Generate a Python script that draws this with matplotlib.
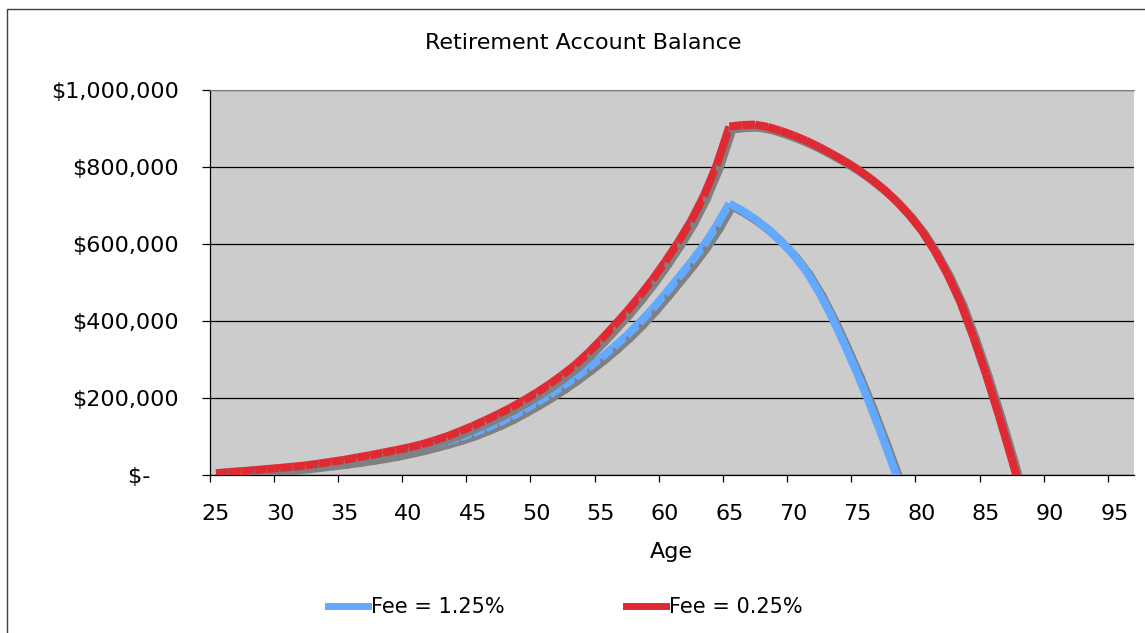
import numpy as np
import matplotlib.pyplot as plt
from matplotlib.transforms import offset_copy
from matplotlib.ticker import FuncFormatter
from matplotlib.lines import Line2D
from matplotlib.patches import Rectangle

# ages on the category axis
ages = list(range(25, 97))

# balance in $ thousands from age 25
# (the last point of each runs below zero and is clipped by the axis)
fee_low = [5, 8, 10.5, 13, 16, 19, 22, 25.5, 30, 35, 40, 46, 52, 58.5, 65, 72, 80, 90, 101, 114,
           128, 143, 159, 176, 195, 215, 237, 261, 287, 318, 352, 388, 425, 465, 508, 555, 605, 660, 725, 805,
           906, 910, 911, 905, 895, 883, 869, 853, 835, 816, 795, 771, 744, 713, 677, 635, 583, 522, 450, 360,
           262, 155, 42, -75]
fee_high = [5, 7.5, 10, 12.5, 15, 17, 20, 23, 27, 31, 35, 39.5, 44.5, 50, 56, 63, 70.5, 79, 88, 98,
            109, 122, 136, 152, 170, 189, 209, 231, 254, 279, 305, 333, 363, 396, 432, 471, 512, 553, 597, 648,
            706, 688, 666, 640, 609, 573, 530, 475, 410, 338, 262, 180, 93, 2, -92]

labels = ['Fee = 1.25%', 'Fee = 0.25%']
colors = ['#63A9FF', '#E02A33']
shadow_color = '#808080'

fig = plt.figure(figsize=(11.45, 6.33), dpi=100)
ax = fig.add_axes([209.6 / 1145, 1 - 475.2 / 633, 924 / 1145, 384.8 / 633])
ax.set_facecolor('#CCCCCC')
ax.set_axisbelow(True)

shadow_tr = offset_copy(ax.transData, fig=fig, x=3, y=-3, units='dots')


def draw_series(vals, color, z0):
    # each segment gets its own shadow, like the spreadsheet chart does
    ys = np.array(vals) * 1000
    xs = np.arange(len(ys))
    for i in range(len(ys) - 1):
        ax.plot(xs[i:i + 2], ys[i:i + 2], color=shadow_color, lw=5.8,
                solid_capstyle='round', transform=shadow_tr, zorder=z0 + 2 * i)
        ax.plot(xs[i:i + 2], ys[i:i + 2], color=color, lw=5.8,
                solid_capstyle='butt', zorder=z0 + 2 * i + 1)


draw_series(fee_high, colors[0], 3)
draw_series(fee_low, colors[1], 300)

ax.set_xlim(-0.5, len(ages) - 0.5)
ax.set_ylim(0, 1_000_000)

ax.set_yticks(np.arange(0, 1_000_001, 200_000))
ax.yaxis.set_major_formatter(FuncFormatter(
    lambda v, p: '$-\u2007\u2007' if v == 0 else '${:,.0f}'.format(v)))
ax.yaxis.grid(True, color='black', lw=0.9)
ax.tick_params(axis='y', length=5.8, width=0.9, pad=16.5, labelsize=16, color='black')

ax.set_xticks(np.arange(-0.5, len(ages) - 2, 5))
ax.set_xticklabels([])
ax.set_xticks(np.arange(0, len(ages), 5), minor=True)
ax.set_xticklabels([str(ages[i]) for i in range(0, len(ages), 5)], minor=True)
ax.tick_params(axis='x', which='major', length=5, width=0.9, color='black')
ax.tick_params(axis='x', which='minor', length=0, pad=21, labelsize=16)

for side in ['left', 'bottom']:
    ax.spines[side].set_color('black')
    ax.spines[side].set_linewidth(0.9)
ax.spines['right'].set_visible(False)
ax.spines['top'].set_color('#808080')

fig.text(583 / 1145, 1 - 43 / 633, 'Retirement Account Balance', ha='center', va='center', fontsize=16)
fig.text(671.6 / 1145, 1 - 552 / 633, 'Age', ha='center', va='center', fontsize=16)

handles = [Line2D([], [], color=c, lw=5) for c in colors]
fig.legend(handles, labels, loc='center left', bbox_to_anchor=(328 / 1145, 1 - 607 / 633),
           ncol=2, frameon=False, fontsize=15, handlelength=1.92, handletextpad=0.15,
           columnspacing=5.8, borderpad=0, borderaxespad=0)

fig.add_artist(Rectangle((7 / 1145, -0.1), 1.2, (633 - 9) / 633 + 0.1, transform=fig.transFigure,
                         fill=False, edgecolor='#404040', lw=1))

fig.savefig('out.png', dpi=100)
